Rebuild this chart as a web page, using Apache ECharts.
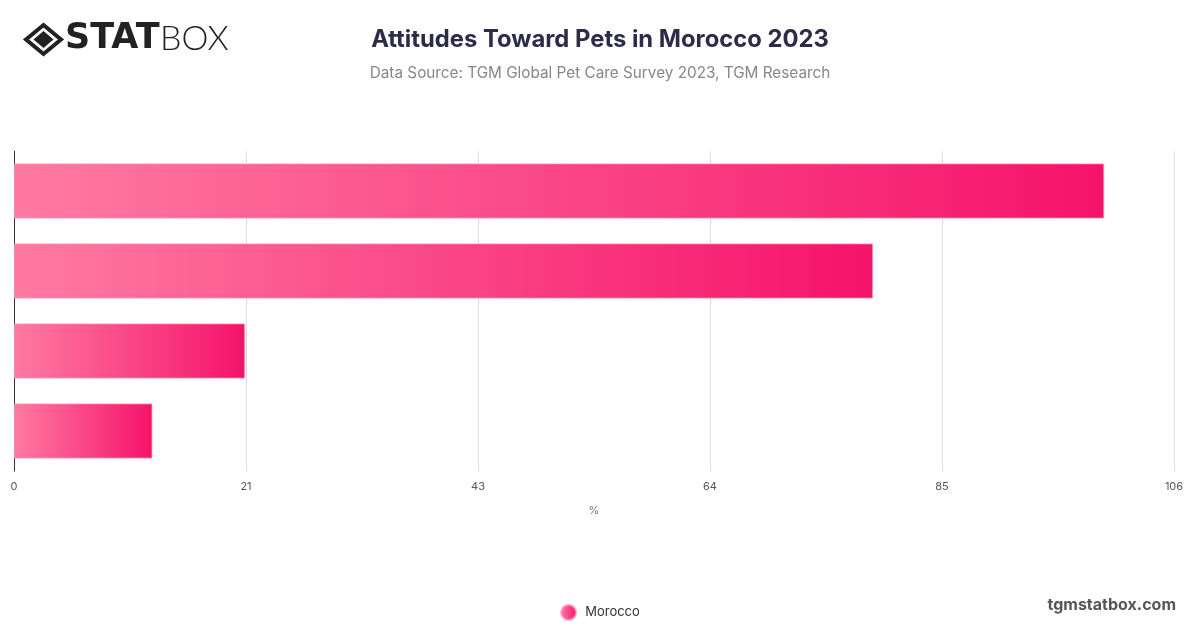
<!DOCTYPE html>
<html>
<head>
<meta charset="utf-8">
<script src="https://cdn.jsdelivr.net/npm/echarts@6/dist/echarts.min.js"></script>
<style>
html,body{margin:0;padding:0;background:#fff;}
#chart{width:1200px;height:628px;}
</style>
</head>
<body>
<div id="chart"></div>
<script>
var categories = ["Pets are part of the family", "Pets improve my wellbeing", "Pets are a financial burden", "Pets are not worth the effort"];
var seriesName = "Morocco";
var values = [100, 78.8, 21.2, 12.7];
var axisMax = 106.4;
var axisInterval = 21.28;
var tickLabels = ["0", "21", "43", "64", "85", "106"];

function grad(){
  return new echarts.graphic.LinearGradient(0, 0, 1, 0, [
    {offset: 0, color: '#ff7aa2'},
    {offset: 1, color: '#f5136a'}
  ]);
}

var chart = echarts.init(document.getElementById('chart'), null, {renderer: 'canvas'});
var option = {
  backgroundColor: '#ffffff',
  animation: false,
  title: [{
    text: 'Attitudes Toward Pets in Morocco 2023',
    left: 'center', top: 23,
    textStyle: {fontFamily: 'Inter', fontWeight: 700, fontSize: 23.8, color: '#2e2b48'}
  }, {
    text: 'Data Source: TGM Global Pet Care Survey 2023, TGM Research',
    left: 'center', top: 61,
    textStyle: {fontFamily: 'Inter', fontWeight: 400, fontSize: 15.3, color: '#878787'}
  }],
  legend: {
    bottom: 2, left: 'center',
    data: [{name: seriesName, icon: 'circle'}],
    itemWidth: 15, itemHeight: 15, itemGap: 10,
    textStyle: {fontFamily: 'Inter', fontSize: 13, color: '#333', padding: [0, 0, 0, 4]}
  },
  grid: {left: 14, right: 26, top: 151, bottom: 157, containLabel: false},
  xAxis: {
    type: 'value', min: 0, max: axisMax, interval: axisInterval,
    name: '%', nameLocation: 'middle', nameGap: 34,
    nameTextStyle: {fontFamily: 'Inter', fontSize: 11, color: '#777'},
    axisLine: {show: false}, axisTick: {show: false},
    axisLabel: {
      margin: 10, fontFamily: 'Inter', fontSize: 11, color: '#555',
      formatter: function(v){ return tickLabels[Math.round(v / axisInterval)]; }
    },
    splitLine: {show: true, lineStyle: {color: '#dcdcdc', width: 1}}
  },
  yAxis: {
    type: 'category', data: categories, inverse: true,
    axisLine: {show: true, lineStyle: {color: '#333', width: 1}},
    axisTick: {show: false}, axisLabel: {show: false},
    splitLine: {show: false}
  },
  series: [{
    name: seriesName, type: 'bar', data: values,
    barCategoryGap: '31%',
    itemStyle: {color: grad(), borderColor: 'rgba(255,150,190,0.8)', borderWidth: 1}
  }],
  graphic: [
    {type: 'polygon', shape: {points: [[43.5,25],[61,39.5],[43.5,54],[26,39.5]]}, style: {fill: 'none', stroke: '#222', lineWidth: 4}},
    {type: 'polygon', shape: {points: [[43.5,31],[53.5,39.5],[43.5,48],[33.5,39.5]]}, style: {fill: '#222'}},
    {type: 'text', left: 65, top: 21, style: {text: 'STAT', fontFamily: 'DejaVu Sans', fontWeight: 900, fontSize: 35, fill: '#222'}},
    {type: 'text', left: 160, top: 22, style: {text: 'BOX', fontFamily: 'Lato', fontWeight: 300, fontSize: 34, fill: '#222'}},
    {type: 'text', right: 24, top: 597, style: {text: 'tgmstatbox.com', fontFamily: 'Inter', fontWeight: 700, fontSize: 16, fill: '#555'}}
  ]
};
chart.setOption(option);
</script>
</body>
</html>
